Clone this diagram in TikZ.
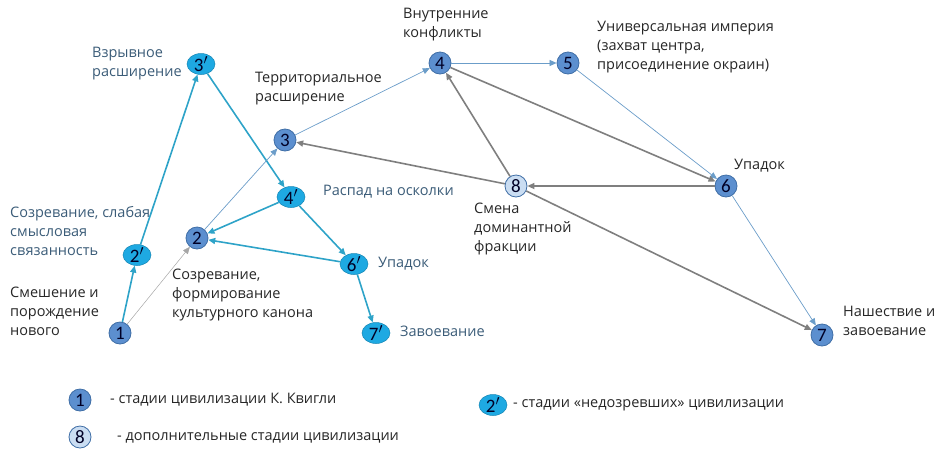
\documentclass[tikz,border=0pt]{standalone}
\usepackage{fontspec}
\setmainfont{Open Sans}
\newfontfamily\numfont{Carlito}
\usetikzlibrary{arrows.meta,shapes.geometric}
\definecolor{nblue}{HTML}{5C8FCF}
\definecolor{nbord}{HTML}{3F6EA6}
\definecolor{ncyan}{HTML}{1EA9E2}
\definecolor{ecyan}{HTML}{2EA3C8}
\definecolor{eblue}{HTML}{6B9DC9}
\definecolor{egray}{HTML}{7F7F7F}
\definecolor{nlight}{HTML}{CADDF2}
\definecolor{slate}{HTML}{3B5C78}
\tikzset{
 st/.style={circle,draw=nbord,fill=nblue,line width=0.8pt,minimum size=22pt,inner sep=0pt,font=\numfont\fontsize{19}{19}\selectfont,text=black!85!blue},
 lt/.style={st,fill=nlight},
 cy/.style={ellipse,fill=ncyan,draw=ncyan!80!black,line width=0.5pt,minimum width=28pt,minimum height=21pt,inner sep=0pt,font=\numfont\fontsize{19}{19}\selectfont,text=black!85!blue},
 ec/.style={draw=ecyan,line width=1.6pt,-{Triangle[length=7pt,width=6pt]}},
 eb/.style={draw=eblue,line width=0.7pt,-{Triangle[length=7pt,width=6pt]}},
 eg/.style={draw=egray,line width=1.6pt,-{Triangle[length=7pt,width=6pt]}},
 lb/.style={anchor=north west,align=left,inner sep=0pt,font=\fontsize{14.5}{19}\selectfont,text=black!85},
 lc/.style={lb,text=slate},
}
\begin{document}
\begin{tikzpicture}[x=1pt,y=-1pt]
\useasboundingbox (0,0) rectangle (939,472);
\node[st] (n1) at (120,333) {1};
\node[st] (n2) at (197,238) {2};
\node[st] (n3) at (285,140) {3};
\node[st] (n4) at (440,63) {4};
\node[st] (n5) at (568,63) {5};
\node[st] (n6) at (726,186) {6};
\node[st] (n7) at (822,335) {7};
\node[lt] (n8) at (516,186) {8};
\node[cy] (c2) at (137,255) {2$'$};
\node[cy] (c3) at (201,64) {3$'$};
\node[cy] (c4) at (291,197) {4$'$};
\node[cy] (c6) at (354,264) {6$'$};
\node[cy] (c7) at (376,333) {7$'$};
\draw[ec] (n1)--(c2); \draw[ec] (c2)--(c3); \draw[ec] (c3)--(c4);
\draw[ec] (c4)--(n2); \draw[ec] (c4)--(c6); \draw[ec] (c6)--(n2); \draw[ec] (c6)--(c7);
\draw[eb,draw=gray!70,line width=0.5pt] (n1)--(n2);
\draw[eb] (n2)--(n3); \draw[eb] (n3)--(n4); \draw[eb] (n4)--(n5);
\draw[eb] (n5)--(n6); \draw[eb] (n6)--(n7);
\draw[eg] (n4)--(n6); \draw[eg] (n6)--(n8); \draw[eg] (n8)--(n3);
\draw[eg] (n8)--(n4); \draw[eg] (n8)--(n7);
\node[lc] (t1) at (92,47) {Взрывное\\расширение};
\node[lb] (t2) at (255,72) {Территориальное\\расширение};
\node[lb] (t3) at (403,8) {Внутренние\\конфликты};
\node[lb] (t4) at (597,21) {Универсальная империя\\(захват центра,\\присоединение окраин)};
\node[lb] (t5) at (734,159) {Упадок};
\node[lc] (t6) at (323,185) {Распад на осколки};
\node[lc] (t7) at (10,206) {Созревание, слабая\\смысловая\\связанность};
\node[lb] (t8) at (10,287) {Смешение и\\порождение\\нового};
\node[lb] (t9) at (172,269) {Созревание,\\формирование\\культурного канона};
\node[lc] (t10) at (378,257) {Упадок};
\node[lc] (t11) at (400,326) {Завоевание};
\node[lb] (t12) at (474,203) {Смена\\доминантной\\фракции};
\node[lb] (t13) at (843,306) {Нашествие и\\завоевание};
\node[st] (l1) at (80,400) {1};
\node[lt] (l8) at (80,437) {8};
\node[cy] (l2) at (493,405) {2$'$};
\node[lb,anchor=west] (lt1) at (110,400) {- стадии цивилизации К. Квигли};
\node[lb,anchor=west] (lt8) at (117,438) {- дополнительные стадии цивилизации};
\node[lb,anchor=west] (lt2) at (513,405) {- стадии «недозревших» цивилизации};
\end{tikzpicture}
\end{document}
